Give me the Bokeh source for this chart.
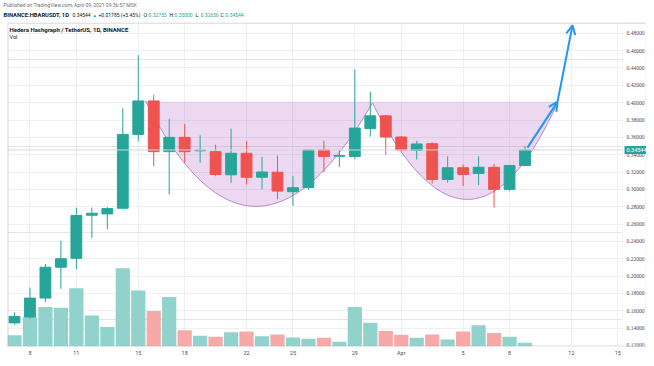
import numpy as np
from bokeh.plotting import figure
from bokeh.models import (Range1d, FixedTicker, Span, Label, LabelSet, Grid, BoxAnnotation,
                          Arrow, OpenHead, ColumnDataSource)
from bokeh.embed import file_html
from bokeh.resources import INLINE

# ---------------- data ----------------
dates = ["Mar 7", "Mar 8", "Mar 9", "Mar 10", "Mar 11", "Mar 12", "Mar 13", "Mar 14",
         "Mar 15", "Mar 16", "Mar 17", "Mar 18", "Mar 19", "Mar 20", "Mar 21", "Mar 22",
         "Mar 23", "Mar 24", "Mar 25", "Mar 26", "Mar 27", "Mar 28", "Mar 29", "Mar 30",
         "Mar 31", "Apr 1", "Apr 2", "Apr 3", "Apr 4", "Apr 5", "Apr 6", "Apr 7", "Apr 8", "Apr 9"]
opens = [0.1460, 0.1528, 0.1746, 0.2102, 0.2205, 0.2702, 0.2717, 0.2782,
         0.3634, 0.4020, 0.3435, 0.3600, 0.3445, 0.3435, 0.3168, 0.3416,
         0.3140, 0.3198, 0.2973, 0.3020, 0.3455, 0.3382, 0.3380, 0.3700,
         0.3848, 0.3604, 0.3450, 0.3527, 0.3114, 0.3249, 0.3183, 0.3255, 0.3000, 0.32755]
highs = [0.1580, 0.1870, 0.2140, 0.2407, 0.2790, 0.2790, 0.2795, 0.3936,
         0.4548, 0.4090, 0.3814, 0.3756, 0.3622, 0.3516, 0.3700, 0.3554,
         0.3375, 0.3390, 0.3152, 0.3460, 0.3561, 0.3450, 0.4384, 0.4127,
         0.3860, 0.3615, 0.3560, 0.3540, 0.3382, 0.3286, 0.3382, 0.3293, 0.3280, 0.35000]
lows = [0.1440, 0.1510, 0.1700, 0.1853, 0.2082, 0.2438, 0.2540, 0.2775,
        0.3554, 0.3267, 0.2942, 0.3306, 0.3306, 0.3152, 0.3076, 0.3057,
        0.3000, 0.2885, 0.2808, 0.2997, 0.3198, 0.3255, 0.3350, 0.3610,
        0.3400, 0.3440, 0.3344, 0.3068, 0.3076, 0.3038, 0.3049, 0.2790, 0.2980, 0.32656]
closes = [0.1535, 0.1746, 0.2102, 0.2200, 0.2698, 0.2725, 0.2778, 0.3634,
          0.4020, 0.3435, 0.3600, 0.3435, 0.3452, 0.3172, 0.3416, 0.3140,
          0.3200, 0.2980, 0.3019, 0.3455, 0.3380, 0.3390, 0.3707, 0.3848,
          0.3604, 0.3455, 0.3524, 0.3114, 0.3249, 0.3172, 0.3255, 0.3000, 0.3275, 0.34544]
volumes = [153, 337, 437, 430, 627, 353, 237, 827, 603, 397, 537, 203, 147, 137,
           183, 190, 143, 160, 130, 117, 127, 87, 437, 280, 197, 157, 127, 160,
           110, 190, 253, 177, 137, 77]

tick_days = [1, 4, 8, 11, 15, 18, 22, 25, 29, 32, 36, 39]
tick_labels = ["8", "11", "15", "18", "22", "25", "29", "Apr", "5", "8", "12", "15"]
price_ticks = [0.12, 0.14, 0.16, 0.18, 0.20, 0.22, 0.24, 0.26, 0.28, 0.30,
               0.32, 0.34, 0.36, 0.38, 0.40, 0.42, 0.44, 0.46, 0.48]
last_price = 0.34544

# drawing anchors (day index, price)
cup_left_rim = (8.47, 0.4020)
cup1_ctrl = (15.35, 0.1600)
cup_peak = (23.14, 0.3997)
cup2_ctrl = (29.44, 0.1772)
cup_right_rim = (35.10, 0.3997)
rim_level = 0.4012
arrow_points = [(33.16, 0.3481), (35.10, 0.4009), (36.07, 0.4892)]

UP, DOWN = "#26a69a", "#ef5350"
UP_V, DOWN_V = "#92d2cc", "#f7a9a7"
FONT = "Roboto"
W, H = 646, 358
FRAME_BOTTOM = 348

# pixel layout -> data (frame spans x 0..W, y 0..FRAME_BOTTOM)
PX_PER_DAY, PX_PER_UNIT = 15.47, 872.0
x_lo, x_hi = (0 - 14) / PX_PER_DAY, (W - 14) / PX_PER_DAY
y_hi, y_lo = 0.48 + 33 / PX_PER_UNIT, 0.48 - (FRAME_BOTTOM - 33) / PX_PER_UNIT
def dx(px_):
    return (px_ - 14) / PX_PER_DAY
def dy(py_):
    return 0.48 - (py_ - 33) / PX_PER_UNIT

p = figure(width=W, height=H, output_backend="svg", toolbar_location=None,
           x_range=Range1d(x_lo, x_hi), y_range=Range1d(y_lo, y_hi),
           y_axis_location=None, min_border_left=0, min_border_right=0,
           min_border_top=0, min_border_bottom=H - FRAME_BOTTOM)
# volume: baseline sits 4px below frame bottom, 10 units per pixel
p.extra_y_ranges = {"vol": Range1d((352 - FRAME_BOTTOM) * 10, 352 * 10)}
p.outline_line_color = None

# x axis (real)
xa = p.xaxis[0]
xa.ticker = FixedTicker(ticks=tick_days)
xa.major_label_overrides = {d: l for d, l in zip(tick_days, tick_labels)}
xa.axis_line_color = None
xa.major_tick_line_color = None
xa.minor_tick_line_color = None
xa.major_tick_out = 0
xa.major_tick_in = 0
xa.major_label_standoff = 3
xa.major_label_text_font = FONT
xa.major_label_text_font_size = "5.5px"
xa.major_label_text_color = "#4a4d57"
p.xgrid.grid_line_color = "#eef0f4"
p.add_layout(Grid(dimension=1, ticker=FixedTicker(ticks=price_ticks),
                  grid_line_color="#eef0f4"))

x = np.arange(len(dates))
o, h, l, c = map(np.array, (opens, highs, lows, closes))
up = c >= o
src = ColumnDataSource(dict(
    x=x, o=o, h=h, l=l, c=c, top=np.maximum(o, c), bot=np.minimum(o, c),
    col=[UP if u else DOWN for u in up], vcol=[UP_V if u else DOWN_V for u in up],
    vol=volumes))

# volume
p.vbar(x="x", top="vol", bottom=0, width=0.92, fill_color="vcol", line_color=None,
       y_range_name="vol", source=src)

# cup fill & curve (quadratic bezier between anchors)
t = np.linspace(0, 1, 80)
def qbez(a, ctrl, b):
    xs = (1 - t) ** 2 * a[0] + 2 * (1 - t) * t * ctrl[0] + t ** 2 * b[0]
    ys = (1 - t) ** 2 * a[1] + 2 * (1 - t) * t * ctrl[1] + t ** 2 * b[1]
    return xs, ys
c1x, c1y = qbez(cup_left_rim, cup1_ctrl, cup_peak)
c2x, c2y = qbez(cup_peak, cup2_ctrl, cup_right_rim)
cx = np.concatenate([c1x, c2x[1:]])
cy = np.concatenate([c1y, c2y[1:]])
px = np.concatenate([cx, [cup_right_rim[0], cup_left_rim[0]]])
py = np.concatenate([cy, [rim_level, rim_level]])
p.patch(px, py, fill_color="#9c27b0", fill_alpha=0.18, line_color=None)
p.line(cx, cy, line_color="#b586cc", line_width=1)

# candles
p.segment(x0="x", y0="h", x1="x", y1="l", line_color="col", line_width=1, source=src)
p.vbar(x="x", top="top", bottom="bot", width=0.7, fill_color="col", line_color="col",
       line_width=1, source=src)

# last price line
p.add_layout(Span(location=last_price, dimension="width", line_color="#d3d6dc", line_width=1))

# arrows
for (xa_, ya_), (xb_, yb_) in zip(arrow_points[:-1], arrow_points[1:]):
    p.add_layout(Arrow(end=OpenHead(size=9, line_color="#2196f3", line_width=2),
                       x_start=xa_, y_start=ya_, x_end=xb_, y_end=yb_,
                       line_color="#2196f3", line_width=2))

# white margins around the chart box (header band, left band, price-axis band)
p.add_layout(BoxAnnotation(bottom=dy(23), fill_color="white", fill_alpha=1, line_color=None))
p.add_layout(BoxAnnotation(right=dx(7), fill_color="white", fill_alpha=1, line_color=None))
p.add_layout(BoxAnnotation(left=dx(622), top=dy(23), fill_color="white", fill_alpha=1,
                           line_color="#e3e5ea", line_width=1))
# chart box border
p.add_layout(BoxAnnotation(left=dx(7.5), top=dy(23), fill_color=None, fill_alpha=0,
                           line_color="#a3a6af", line_width=1.5))

# price scale labels (right)
ysrc = ColumnDataSource(dict(x=[dx(626)] * len(price_ticks), y=price_ticks,
                             t=["%.5f" % v for v in price_ticks]))
p.add_layout(LabelSet(x="x", y="y", text="t", source=ysrc, text_font=FONT,
                      text_font_size="5.5px", text_color="#4a4d57",
                      text_baseline="middle"))

# price tag on the axis
p.add_layout(Label(x=dx(624), y=last_price, text="0.34544", text_color="white",
                   text_font=FONT, text_font_size="5.5px", text_baseline="middle",
                   background_fill_color=UP, padding=2))

def txt(xp, yp, s, color="#131722", size="5px", bold=False):
    p.add_layout(Label(x=dx(xp), y=dy(yp), text=s, text_color=color, text_font=FONT,
                       text_font_size=size, text_baseline="middle",
                       text_font_style="bold" if bold else "normal"))

# headers
txt(3, 5, "Published on TradingView.com, April 09, 2021 09:36:57 MSK", color="#6a6d78")
txt(3, 15, "BINANCE:HBARUSDT, 1D", bold=True, size="5.8px")
txt(72, 15, "0.34544")
txt(92, 15, "\u25b2", color=UP, size="4.5px")
txt(98, 15, "+0.01785 (+5.45%)")
for xs_, lab, val in [(143, "O:", "0.32755"), (169, "H:", "0.35000"),
                      (195, "L:", "0.32656"), (220, "C:", "0.34544")]:
    txt(xs_, 15, lab)
    txt(xs_ + 5, 15, val, color=UP)
txt(9, 29, "Hedera Hashgraph / TetherUS, 1D, BINANCE", bold=True, size="6px")
txt(9, 37, "Vol", size="5.5px")

open("out.html", "w").write(file_html(p, INLINE))
